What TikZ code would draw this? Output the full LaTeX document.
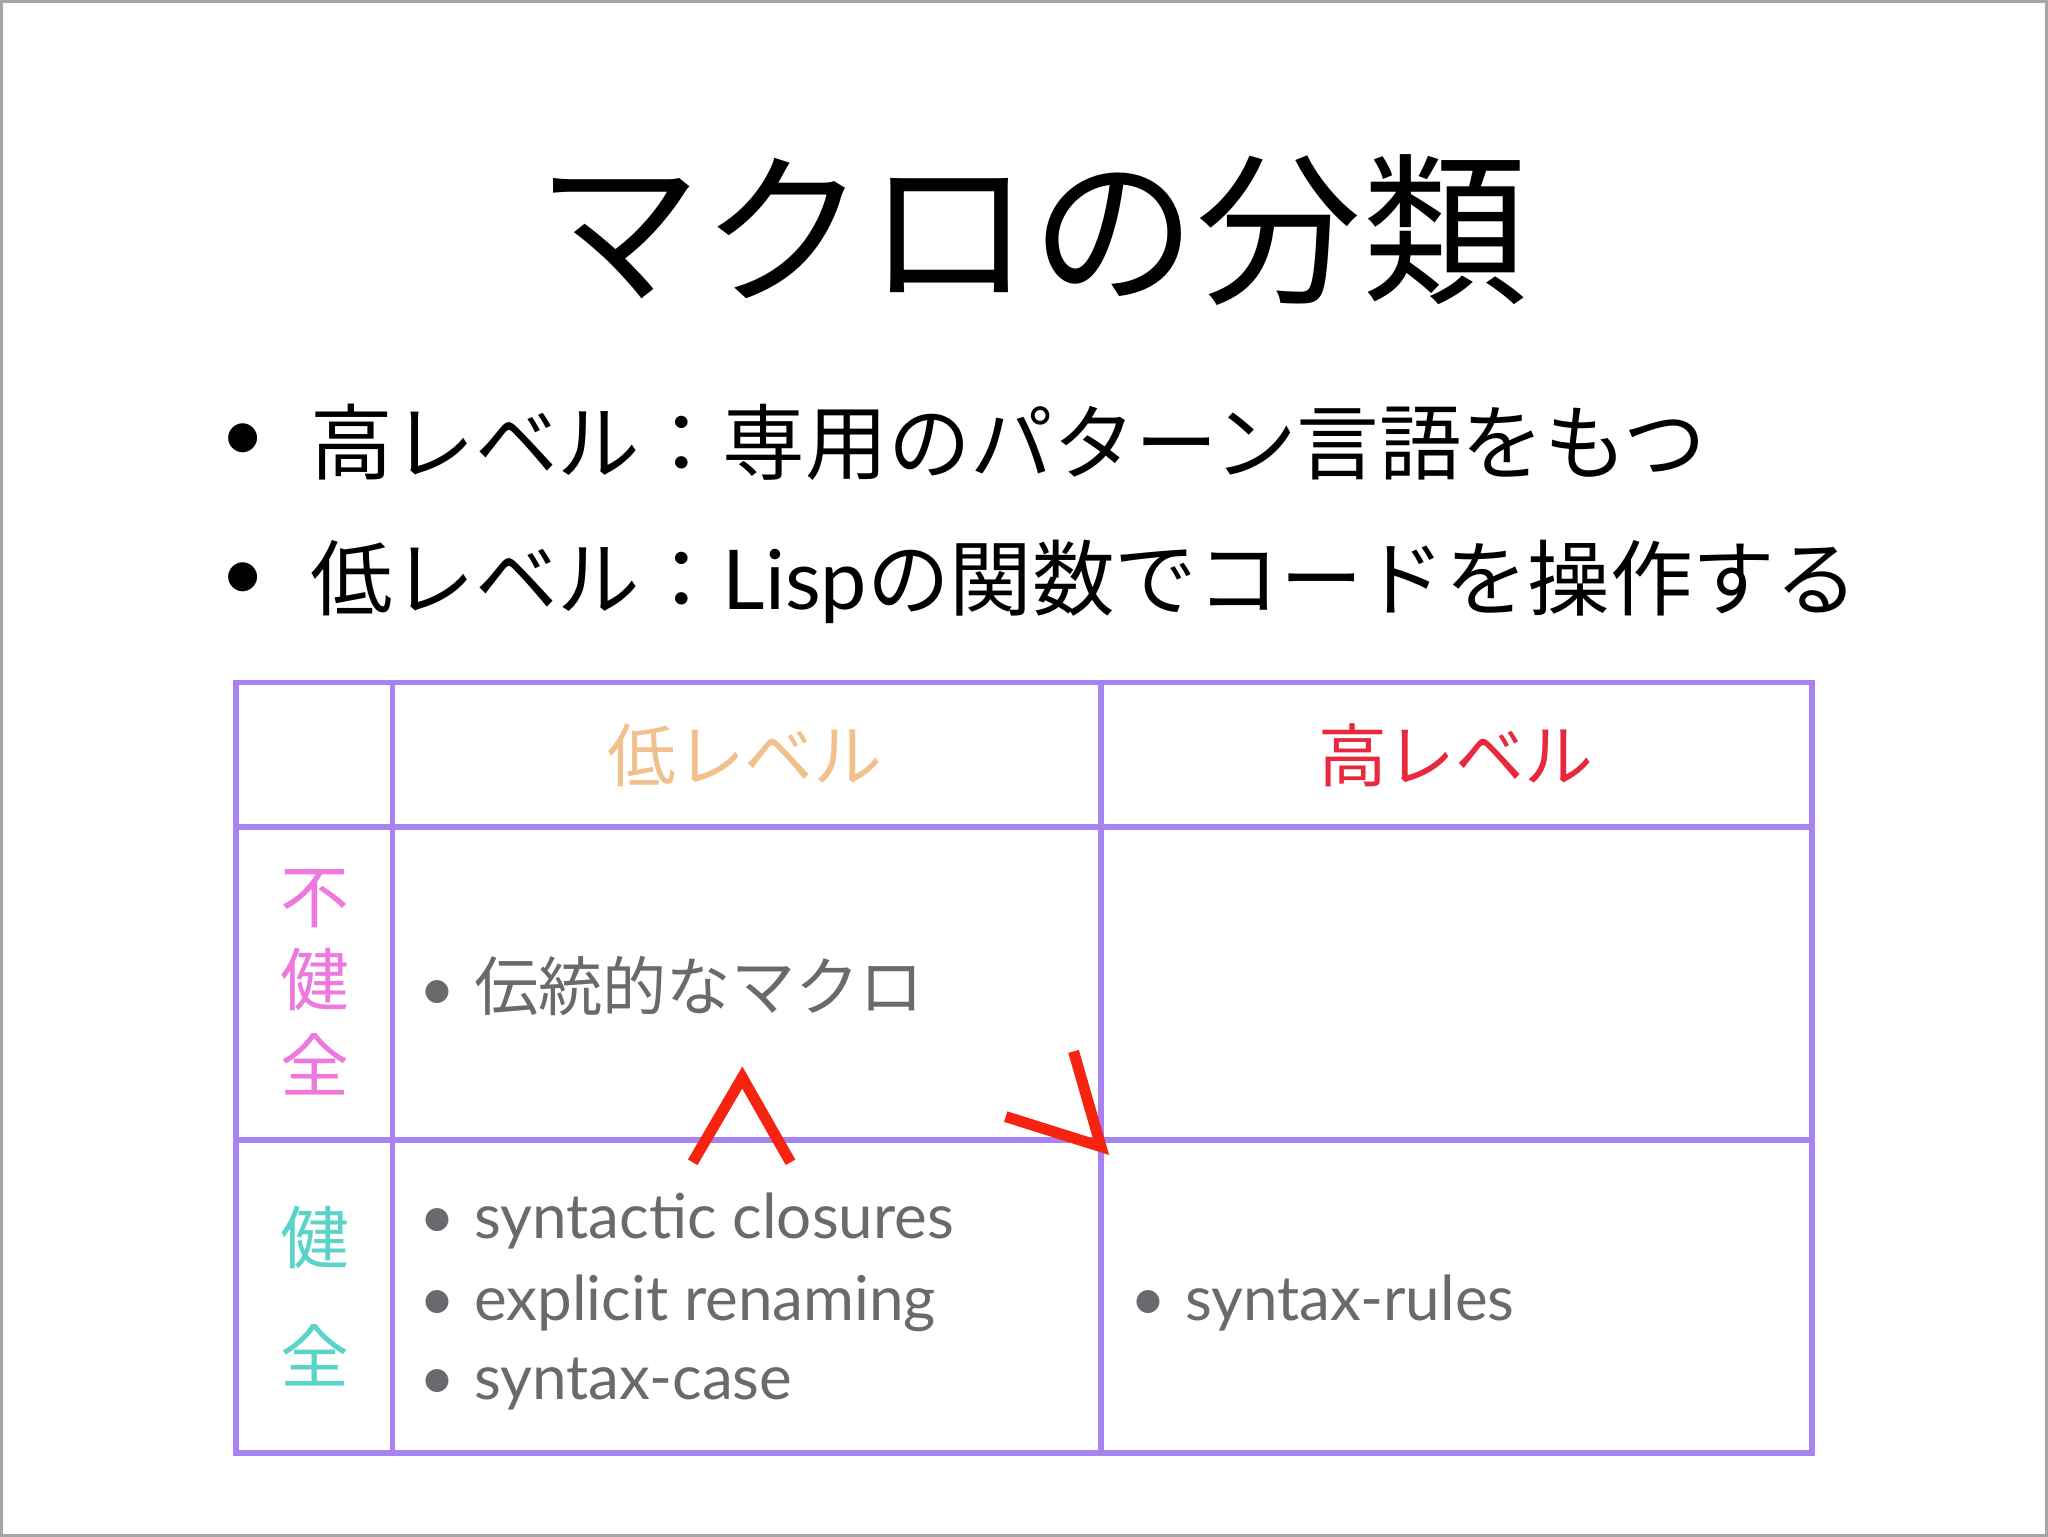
\documentclass[tikz,border=0pt]{standalone}
\usepackage{fontspec}
\setmainfont{Lato}
\newfontfamily\jp{Noto Sans CJK JP}
\definecolor{tblpurple}{RGB}{168,130,240}
\definecolor{txtgray}{RGB}{105,105,110}
\definecolor{hdrtan}{RGB}{242,192,140}
\definecolor{hdrred}{RGB}{232,40,60}
\definecolor{pinkc}{RGB}{238,120,222}
\definecolor{cyanc}{RGB}{90,212,200}
\definecolor{arrred}{RGB}{245,35,15}
\begin{document}
\begin{tikzpicture}[x=0.01cm,y=-0.01cm,
  tline/.style={draw=tblpurple,line width=1.2pt},
  jtxt/.style={font=\jp\fontsize{18}{18}\selectfont,anchor=west,inner sep=0},
  item/.style={font=\fontsize{13.5}{14}\selectfont,text=txtgray,anchor=west,inner sep=0},
  redmark/.style={draw=arrred,line width=2.4pt}]
\draw[draw=gray!70,line width=0.6pt,fill=white] (0,0) rectangle (1568,1176);
\node (title) at (790,175) {\jp\fontsize{36}{36}\selectfont マクロの分類};
\node (b1) at (185,338) {\fontsize{17}{17}\selectfont •};
\node[jtxt] (t1) at (236,338) {高レベル：専用のパターン言語をもつ};
\node (b2) at (185,445) {\fontsize{17}{17}\selectfont •};
\node[jtxt] (t2) at (236,445) {低レベル：{\fontsize{18}{18}\selectfont\rmfamily Lisp}の関数でコードを操作する};
% table
\draw[tline] (180,522) rectangle (1388,1113);
\draw[tline] (300,522) -- (300,1113);
\draw[tline] (843,522) -- (843,1113);
\draw[tline] (180,633) -- (1388,633);
\draw[tline] (180,873) -- (1388,873);
\node (h1) at (570,578) {\jp\fontsize{15}{15}\selectfont\color{hdrtan}低レベル};
\node (h2) at (1115,578) {\jp\fontsize{15}{15}\selectfont\color{hdrred}高レベル};
\node (u1) at (240,688) {\jp\fontsize{15}{15}\selectfont\color{pinkc}不};
\node (u2) at (240,750) {\jp\fontsize{15}{15}\selectfont\color{pinkc}健};
\node (u3) at (240,815) {\jp\fontsize{15}{15}\selectfont\color{pinkc}全};
\node (k1) at (240,948) {\jp\fontsize{15}{15}\selectfont\color{cyanc}健};
\node (k2) at (240,1038) {\jp\fontsize{15}{15}\selectfont\color{cyanc}全};
\node[item] (c1) at (320,755) {•\hspace{0.3em}{\jp\fontsize{14}{14}\selectfont 伝統的なマクロ}};
\node[item] (c2) at (320,935) {•\hspace{0.3em}syntactic closures};
\node[item] (c3) at (320,998) {•\hspace{0.3em}explicit renaming};
\node[item] (c4) at (320,1060) {•\hspace{0.3em}syntax-case};
\node[item] (c5) at (865,998) {•\hspace{0.3em}syntax-rules};
% red marks
\coordinate (a1) at (530,890); \coordinate (a2) at (568,825); \coordinate (a3) at (605,890);
\draw[redmark] (a1) -- (a2) -- (a3);
\coordinate (g1) at (770,855); \coordinate (g2) at (843,878); \coordinate (g3) at (822,805);
\draw[redmark] (g1) -- (g2) -- (g3);
\end{tikzpicture}
\end{document}
